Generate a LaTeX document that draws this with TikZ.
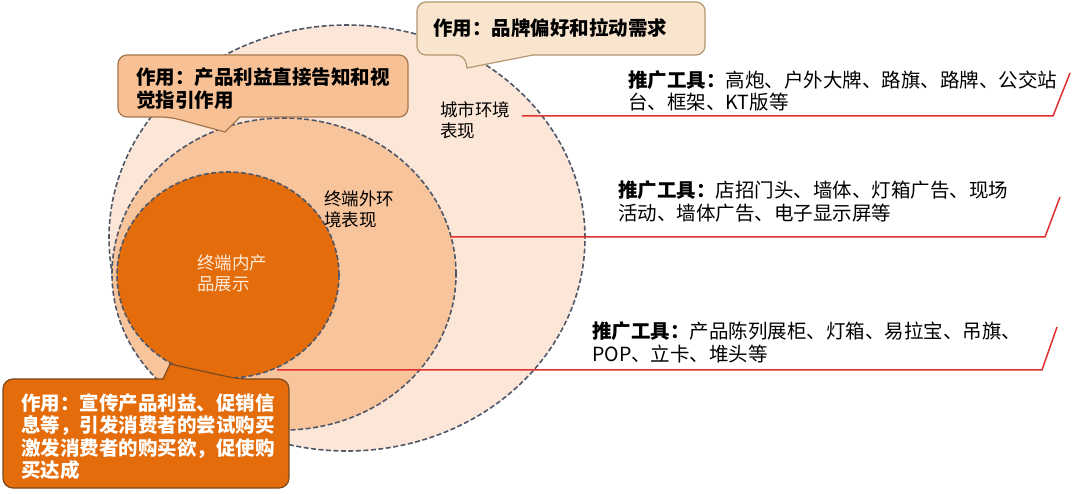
\documentclass[tikz,border=0pt]{standalone}
\usepackage{fontspec}
\setmainfont{Noto Sans CJK SC}
\usetikzlibrary{shapes.geometric}
\definecolor{outerc}{HTML}{FCE6D8}
\definecolor{middlec}{HTML}{F8C49C}
\definecolor{innerc}{HTML}{E46C0A}
\definecolor{ringc}{HTML}{4F5869}
\definecolor{redc}{HTML}{E0302F}
\definecolor{c1fill}{HTML}{F9E4CE}
\definecolor{c1draw}{HTML}{B59670}
\definecolor{c2fill}{HTML}{F7C195}
\definecolor{c2draw}{HTML}{A5764C}
\definecolor{c3draw}{HTML}{7A4A20}
\definecolor{creamc}{HTML}{FDEBD9}
\begin{document}
\begin{tikzpicture}[x=1pt,y=-1pt,
  ring/.style={ellipse, draw=ringc, line width=1.6pt, dash pattern=on 5pt off 2.5pt, inner sep=0pt},
  redline/.style={draw=redc, line width=1.5pt},
  callbox/.style={line width=1.2pt, rounded corners=9pt},
  calltext/.style={inner sep=0pt, anchor=west, align=left, font=\bfseries\fontsize{19.5}{22.5}\selectfont},
  tooltext/.style={inner sep=0pt, anchor=west, align=left, font=\fontsize{19.5}{22.5}\selectfont},
  ringtext/.style={inner sep=0pt, anchor=west, align=left, font=\fontsize{17.5}{21}\selectfont}]
\useasboundingbox (0,0) rectangle (1080,494);
\fill[white] (0,0) rectangle (1080,494);

% rings
\node[ring, fill=outerc, minimum width=476pt, minimum height=426pt] (outer) at (347,238) {};
\node[ring, fill=middlec, minimum width=344pt, minimum height=312pt] (middle) at (284,274) {};
\node[ring, fill=innerc, minimum width=222pt, minimum height=206pt] (inner) at (228,275) {};

% red lines
\coordinate (l1a) at (522,116);
\coordinate (l1b) at (1053,116);
\coordinate (l1c) at (1070,73);
\coordinate (l2a) at (450,237);
\coordinate (l2b) at (1045,237);
\coordinate (l2c) at (1060,197);
\coordinate (l3a) at (277,370);
\coordinate (l3b) at (1042,370);
\coordinate (l3c) at (1057,327);
\draw[redline] (l1a) -- (l1b) -- (l1c);
\draw[redline] (l2a) -- (l2b) -- (l2c);
\draw[redline] (l3a) -- (l3b) -- (l3c);

% callouts
\path[callbox, fill=c1fill, draw=c1draw]
  (465,55) [sharp corners] -- (467,68) -- (533,55) [rounded corners=9pt] -- (705,55) -- (705,2) -- (417,2) -- (417,55) -- cycle;
\path[callbox, fill=c2fill, draw=c2draw]
  (170,117) [sharp corners] -- (225,132) -- (240,117) [rounded corners=9pt] -- (408,117) -- (408,55) -- (118,55) -- (118,117) -- cycle;
\path[callbox, fill=innerc, draw=c3draw]
  (238,379) [sharp corners] -- (170,364) -- (163,379) [rounded corners=10pt] -- (3,379) -- (3,488) -- (289,488) -- (289,379) -- cycle;

% texts
\node[calltext] (t1) at (433,28) {作用：品牌偏好和拉动需求};
\node[calltext] (t2) at (136,88.5) {作用：产品利益直接告知和视\\觉指引作用};
\node[calltext, text=white] (t3) at (21,436.5) {作用：宣传产品利益、促销信\\息等，引发消费者的尝试购买\\激发消费者的购买欲，促使购\\买达成};

\node[tooltext] (r1) at (628,91) {\textbf{推广工具：}高炮、户外大牌、路旗、路牌、公交站\\台、框架、KT版等};
\node[tooltext] (r2) at (618,201.5) {\textbf{推广工具：}店招门头、墙体、灯箱广告、现场\\活动、墙体广告、电子显示屏等};
\node[tooltext] (r3) at (592,342.5) {\textbf{推广工具：}产品陈列展柜、灯箱、易拉宝、吊旗、\\POP、立卡、堆头等};

\node[ringtext] (lo) at (440,120.5) {城市环境\\表现};
\node[ringtext] (lm) at (324,209.5) {终端外环\\境表现};
\node[ringtext, text=creamc] (li) at (197,273.5) {终端内产\\品展示};
\end{tikzpicture}
\end{document}
